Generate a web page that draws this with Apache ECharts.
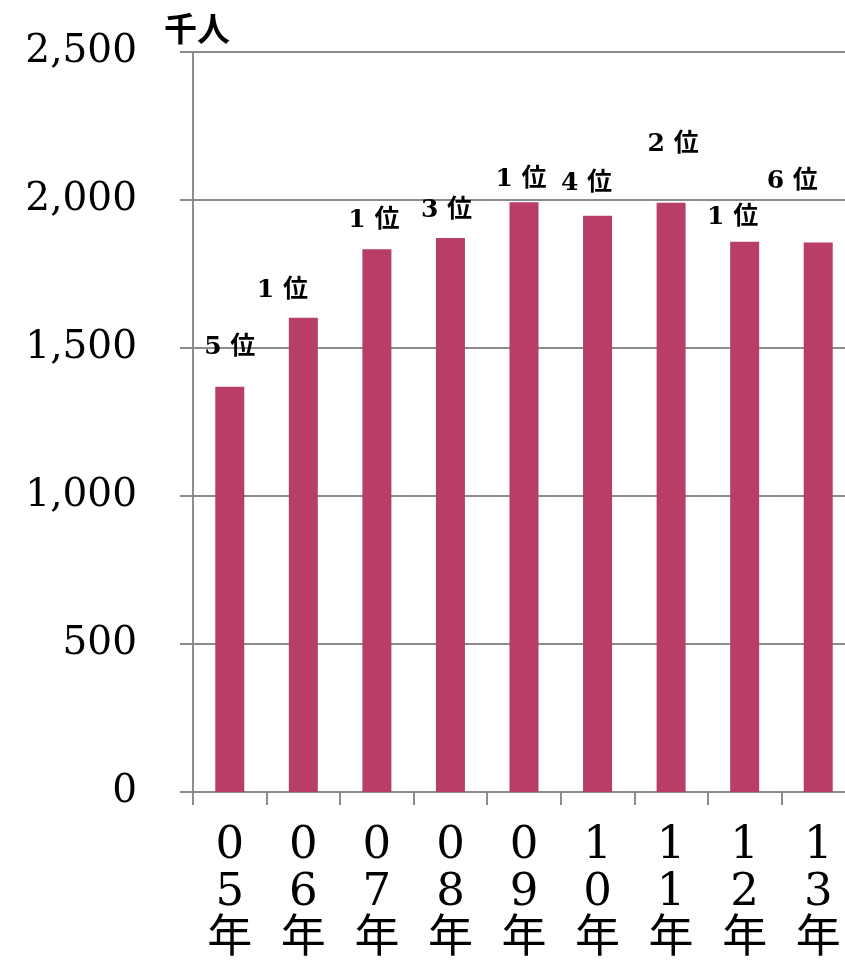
<!DOCTYPE html>
<html><head><meta charset="utf-8">
<script src="https://cdn.jsdelivr.net/npm/echarts@6/dist/echarts.min.js"></script>
<style>html,body{margin:0;padding:0;background:#fff;overflow:hidden}#c{width:856px;height:967px}</style>
</head><body><div id="c"></div>
<script>
var categories = ['0\n5\n年','0\n6\n年','0\n7\n年','0\n8\n年','0\n9\n年','1\n0\n年','1\n1\n年','1\n2\n年','1\n3\n年'];
var values = [1369, 1602, 1834, 1872, 1992, 1947, 1991, 1859, 1856];
var ranks = ['5 位','1 位','1 位','3 位','1 位','4 位','2 位','1 位','6 位'];
var labelOffsets = [[0,-27],[-21,-15],[-3,-16],[-4,-15],[-3,-10],[-11,-20],[2,-46],[-12,-12],[-26,-49]];
var yTicks = {min:0, max:2500, interval:500};

var chart = echarts.init(document.getElementById('c'));
var data = values.map(function(v,i){
  return {value:v, label:{show:true, position:'top', distance:0, offset:labelOffsets[i], formatter:ranks[i]}};
});
chart.setOption({
  animation:false,
  grid:{left:193, top:52, height:740, width:662},
  graphic:[{type:'text', left:164, top:12, style:{text:'千人', font:'bold 33px "Noto Sans CJK JP"', fill:'#000'}}],
  xAxis:{type:'category', data:categories,
    axisLine:{lineStyle:{color:'#8c8c8c', width:2}},
    axisTick:{show:true, length:13, lineStyle:{color:'#8c8c8c', width:2}},
    axisLabel:{interval:0, margin:31, color:'#000', fontFamily:'"DejaVu Serif","Noto Sans CJK JP"', fontSize:45, lineHeight:47}},
  yAxis:{type:'value', min:yTicks.min, max:yTicks.max, interval:yTicks.interval,
    axisLine:{show:true, lineStyle:{color:'#8c8c8c', width:2}},
    axisTick:{show:true, length:13, lineStyle:{color:'#8c8c8c', width:2}},
    splitLine:{lineStyle:{color:'#8c8c8c', width:2}},
    axisLabel:{margin:56, color:'#000', fontFamily:'"DejaVu Serif"', fontSize:39,
      formatter:function(v){return v.toLocaleString('en-US');}}},
  series:[{type:'bar', data:data, barWidth:29, itemStyle:{color:'#B83D68'},
    label:{color:'#000', fontWeight:'bold', fontSize:25, fontFamily:'"DejaVu Serif","Noto Sans CJK JP"'}}]
});
</script></body></html>
